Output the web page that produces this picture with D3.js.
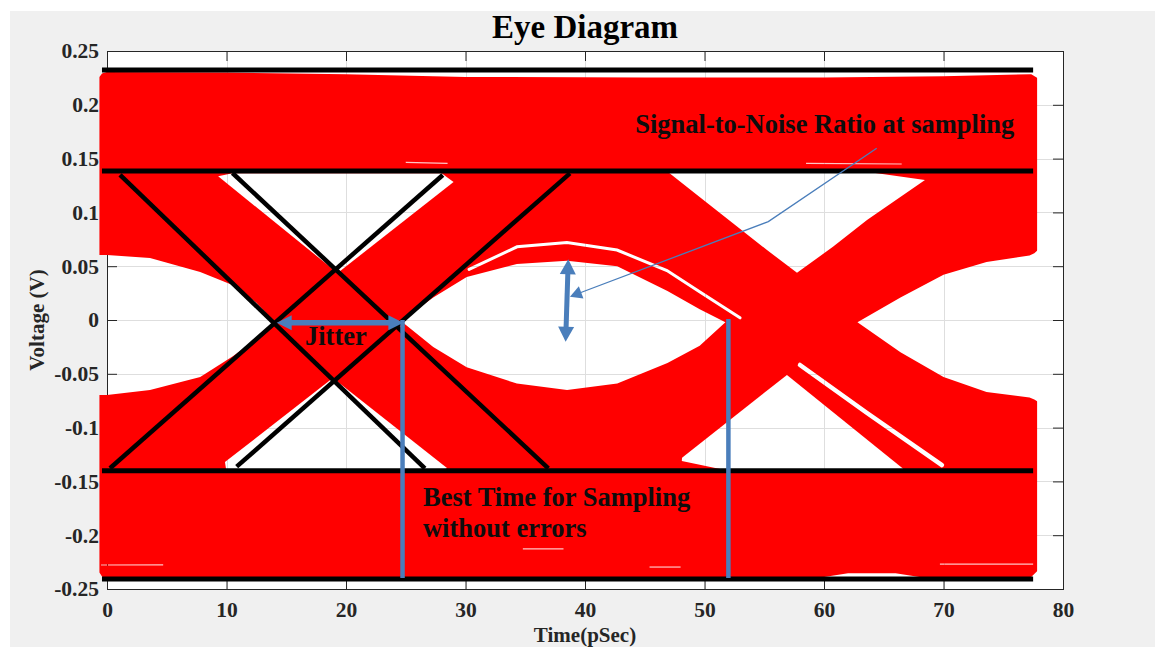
<!DOCTYPE html>
<html>
<head>
<meta charset="utf-8">
<script src="https://cdn.jsdelivr.net/npm/d3@7"></script>
<style>
  body { margin: 0; background: #fff; }
  svg { display: block; }
  text { font-family: "Liberation Serif", "Times New Roman", serif; font-weight: bold; }
</style>
</head>
<body>
<svg id="chart"></svg>
<script>
// ---- axis ticks ----
const xTicks = [0, 10, 20, 30, 40, 50, 60, 70, 80];
const xTickLabels = ["0", "10", "20", "30", "40", "50", "60", "70", "80"];
const yTicks = [-0.25, -0.2, -0.15, -0.1, -0.05, 0, 0.05, 0.1, 0.15, 0.2, 0.25];
const yTickLabels = ["-0.25", "-0.2", "-0.15", "-0.1", "-0.05", "0", "0.05", "0.1", "0.15", "0.2", "0.25"];

// ---- eye pattern: outer envelope of all traces [time pSec, volt] ----
const envelope = [
  [-0.55, 0.2255], [-0.35, 0.2285], [0, 0.2295], [10, 0.229], [20, 0.2275], [30, 0.225],
  [45, 0.2245], [60, 0.2245], [70, 0.2255], [77.3, 0.2275], [77.75, 0.2245],
  [77.75, -0.233], [77.3, -0.238], [68, -0.238], [66, -0.2345], [62, -0.2345], [60, -0.238],
  [40, -0.2385], [20, -0.238], [5, -0.2385], [0, -0.239], [-0.35, -0.238], [-0.55, -0.2345]
];

// ---- openings where no trace passes ----
const leftEye = [
  [-1, 0.0605], [0, 0.0605], [3.6, 0.0576], [7.8, 0.0446], [10.5, 0.0325], [12.5, 0.016], [14.06, -0.002],
  [12.5, -0.018], [10.5, -0.034], [7.8, -0.053], [3.6, -0.065], [0, -0.0697], [-1, -0.0697]
];
const centerEye = [
  [24.6, -0.001], [27.3, 0.021], [30.1, 0.040], [34.3, 0.052], [38.5, 0.055], [42.7, 0.050],
  [46.9, 0.027], [49.6, 0.010], [51.75, -0.002], [49.6, -0.024], [46.9, -0.040], [42.7, -0.059],
  [38.5, -0.065], [34.3, -0.059], [30.1, -0.044], [27.3, -0.025]
];
const rightEye = [
  [62.8, -0.002], [66.4, 0.021], [70.0, 0.042], [73.6, 0.054], [77.2, 0.060], [77.6, 0.062], [78.2, 0.068],
  [80, 0.07], [80, -0.078], [78.2, -0.078], [77.6, -0.074], [77.2, -0.072], [73.6, -0.067],
  [70.0, -0.053], [66.4, -0.030]
];
const upperGapLeft = [[9.3, 0.1335], [10.5, 0.1365], [28.0, 0.1365], [29.0, 0.1283], [19.3, 0.0437]];
const lowerGapLeft = [[18.9, -0.054], [28.45, -0.1375], [28.0, -0.141], [10.0, -0.141], [9.87, -0.132]];
const upperGapRight = [
  [47.0, 0.137], [47.5, 0.140], [60, 0.140], [64, 0.137], [68.45, 0.130], [63.6, 0.093],
  [60.75, 0.068], [57.74, 0.044], [55.23, 0.065], [52.38, 0.090], [49.62, 0.114]
];
const lowerGapRight = [[48.12, -0.128], [56.9, -0.051], [66.6, -0.138], [66.6, -0.141], [52.4, -0.141], [48.1, -0.131]];

// thin gaps between trace bundles
const slivers = [
  [[30.3, 0.047], [34.31, 0.068], [38.49, 0.072], [42.68, 0.065], [46.86, 0.046], [49.62, 0.026], [52.97, 0.002]],
  [[57.99, -0.0418], [63.6, -0.0864], [69.87, -0.1348]]
];
const streaks = [
  [[-0.5, -0.2277], [4.7, -0.2275]],
  [[34.8, -0.2128], [38.2, -0.2128]],
  [[45.4, -0.2296], [48.0, -0.2296]],
  [[69.7, -0.2268], [77.5, -0.2268]],
  [[25.0, 0.1465], [28.5, 0.1455]],
  [[58.5, 0.1455], [66.5, 0.145]]
];

// ---- black guide lines ----
const levelLines = [
  [[-0.42, 0.2323], [77.5, 0.2323]],
  [[-0.42, 0.1385], [77.5, 0.1385]],
  [[-0.42, -0.140], [77.5, -0.140]],
  [[-0.42, -0.2407], [77.5, -0.2407]]
];
const edgeLines = [
  [[1.09, 0.1348], [26.6, -0.1378]],
  [[10.5, 0.1366], [36.93, -0.1378]],
  [[0.25, -0.1378], [28.1, 0.1348]],
  [[10.85, -0.1363], [38.74, 0.1363]]
];

// ---- blue annotations ----
const jitterArrow = [[14.2, -0.0025], [24.8, -0.0025]];
const samplingLines = [
  [[24.73, 0.0], [24.73, -0.2398]],
  [[52.0, 0.001], [52.0, -0.2398]]
];
const snrArrow = [[38.6, 0.0564], [38.38, -0.0201]];
const snrLeader = [[64.41, 0.1596], [55.34, 0.0914], [38.74, 0.0217]];

const titleText = "Eye Diagram";
const xLabel = "Time(pSec)";
const yLabel = "Voltage (V)";
const notes = [
  { text: "Signal-to-Noise Ratio at sampling", at: [44.2, 0.174] },
  { text: "Jitter", at: [16.57, -0.0232] },
  { text: "Best Time for Sampling", at: [26.44, -0.1729] },
  { text: "without errors", at: [26.44, -0.2017] }
];

// ---- layout ----
const width = 1155, height = 647;
const plotLeft = 107, plotRight = 1063, plotTop = 51, plotBottom = 589;
const blue = "#4a7ebb";

const x = d3.scaleLinear().domain([0, 80]).range([plotLeft, plotRight]);
const y = d3.scaleLinear().domain([-0.25, 0.25]).range([plotBottom, plotTop]);
const line = d3.line().x(d => x(d[0])).y(d => y(d[1]));

const svg = d3.select("#chart").attr("width", width).attr("height", height);

// figure + axes background
svg.append("rect").attr("x", 10).attr("y", 11).attr("width", width - 10).attr("height", height - 11).attr("fill", "#f0f0f0");
svg.append("rect").attr("x", plotLeft).attr("y", plotTop)
  .attr("width", plotRight - plotLeft).attr("height", plotBottom - plotTop).attr("fill", "#fff");

// grid
const grid = svg.append("g").attr("stroke", "#dedede").attr("stroke-width", 1);
grid.selectAll(".gx").data(xTicks.slice(1, -1)).join("line")
  .attr("x1", d => Math.round(x(d)) + 0.5).attr("x2", d => Math.round(x(d)) + 0.5)
  .attr("y1", plotTop).attr("y2", plotBottom);
grid.selectAll(".gy").data(yTicks.slice(1, -1)).join("line")
  .attr("y1", d => Math.round(y(d)) + 0.5).attr("y2", d => Math.round(y(d)) + 0.5)
  .attr("x1", plotLeft).attr("x2", plotRight);

// axes, ticks inside
function styleAxis(g) {
  g.select(".domain").remove();
  g.attr("font-family", "Liberation Serif").attr("font-size", 21.5).attr("font-weight", "bold").attr("color", "#262626");
}
svg.append("g").attr("transform", `translate(${plotLeft},0)`)
  .call(d3.axisLeft(y).tickValues(yTicks).tickFormat((d, i) => yTickLabels[i]).tickSize(-10).tickPadding(8))
  .call(styleAxis);
svg.append("g").attr("transform", `translate(0,${plotBottom})`)
  .call(d3.axisBottom(x).tickValues(xTicks).tickFormat((d, i) => xTickLabels[i]).tickSize(-10).tickPadding(13))
  .call(styleAxis);
svg.append("g").attr("transform", `translate(0,${plotTop})`)
  .call(d3.axisTop(x).tickValues(xTicks).tickFormat("").tickSize(-10))
  .call(styleAxis);
svg.append("g").attr("transform", `translate(${plotRight},0)`)
  .call(d3.axisRight(y).tickValues(yTicks).tickFormat("").tickSize(-10))
  .call(styleAxis);
svg.append("rect").attr("x", plotLeft + 0.5).attr("y", plotTop + 0.5)
  .attr("width", plotRight - plotLeft).attr("height", plotBottom - plotTop)
  .attr("fill", "none").attr("stroke", "#262626");

// eye pattern: envelope with the openings masked out
const mask = svg.append("defs").append("mask").attr("id", "eyeHoles")
  .attr("maskUnits", "userSpaceOnUse").attr("x", 0).attr("y", 0).attr("width", width).attr("height", height);
mask.append("rect").attr("width", width).attr("height", height).attr("fill", "#fff");
mask.selectAll(".hole")
  .data([leftEye, centerEye, rightEye, upperGapLeft, lowerGapLeft, upperGapRight, lowerGapRight])
  .join("path").attr("d", d => line(d) + "Z").attr("fill", "#000");
mask.selectAll(".sliver").data(slivers).join("path")
  .attr("d", line).attr("fill", "none").attr("stroke", "#000")
  .attr("stroke-width", (d, i) => i === 0 ? 3 : 4.5).attr("stroke-linecap", "round");
mask.selectAll(".streak").data(streaks).join("path")
  .attr("d", line).attr("fill", "none").attr("stroke", "#3a3a3a").attr("stroke-width", 1.2);

svg.append("path").attr("mask", "url(#eyeHoles)")
  .attr("d", line(envelope) + "Z")
  .attr("fill", "#ff0000").attr("stroke", "#ff0000").attr("stroke-width", 2).attr("stroke-linejoin", "round");

// black guide lines
svg.append("g").selectAll("path").data(levelLines).join("path")
  .attr("d", line).attr("stroke", "#000").attr("stroke-width", 5).attr("fill", "none");
svg.append("g").selectAll("path").data(edgeLines).join("path")
  .attr("d", line).attr("stroke", "#000").attr("stroke-width", 4.5).attr("fill", "none");

// blue annotations
function head(tip, from, len, hw) {
  const dx = tip[0] - from[0], dy = tip[1] - from[1], d = Math.hypot(dx, dy);
  const ux = dx / d, uy = dy / d, bx = tip[0] - ux * len, by = tip[1] - uy * len;
  return { poly: [[tip[0], tip[1]], [bx - uy * hw, by + ux * hw], [bx + uy * hw, by - ux * hw]], base: [bx + ux, by + uy] };
}
const ann = svg.append("g").attr("fill", blue).attr("stroke", blue);
function doubleArrow(pts, len, hw, sw) {
  const a = [x(pts[0][0]), y(pts[0][1])], b = [x(pts[1][0]), y(pts[1][1])];
  const ha = head(a, b, len, hw), hb = head(b, a, len, hw);
  ann.append("line").attr("x1", ha.base[0]).attr("y1", ha.base[1]).attr("x2", hb.base[0]).attr("y2", hb.base[1])
    .attr("stroke-width", sw);
  [ha, hb].forEach(h => ann.append("path").attr("d", "M" + h.poly.join("L") + "Z").attr("stroke", "none"));
}
doubleArrow(jitterArrow, 15, 7.5, 5.5);
doubleArrow(snrArrow, 15, 8, 5);

ann.selectAll(".samp").data(samplingLines).join("path")
  .attr("d", line).attr("stroke-width", 4.5).attr("fill", "none");

const lp = snrLeader.map(d => [x(d[0]), y(d[1])]);
const lh = head(lp[2], lp[1], 12, 6.5);
ann.append("path").attr("d", d3.line()([lp[0], lp[1], lh.base])).attr("fill", "none").attr("stroke-width", 1.3);
ann.append("path").attr("d", "M" + lh.poly.join("L") + "Z").attr("stroke", "none");

// annotation text
svg.append("g").selectAll("text").data(notes).join("text")
  .attr("x", d => x(d.at[0])).attr("y", d => y(d.at[1]))
  .attr("font-size", 26.5).attr("fill", "#0d0d0d").text(d => d.text);

// title and axis labels
svg.append("text").attr("x", (plotLeft + plotRight) / 2).attr("y", 38).attr("text-anchor", "middle")
  .attr("font-size", 33).attr("fill", "#000").text(titleText);
svg.append("text").attr("x", (plotLeft + plotRight) / 2).attr("y", 642).attr("text-anchor", "middle")
  .attr("font-size", 21).attr("fill", "#262626").text(xLabel);
svg.append("text").attr("transform", `translate(44,${(plotTop + plotBottom) / 2}) rotate(-90)`)
  .attr("text-anchor", "middle").attr("font-size", 21).attr("fill", "#262626").text(yLabel);
</script>
</body>
</html>
